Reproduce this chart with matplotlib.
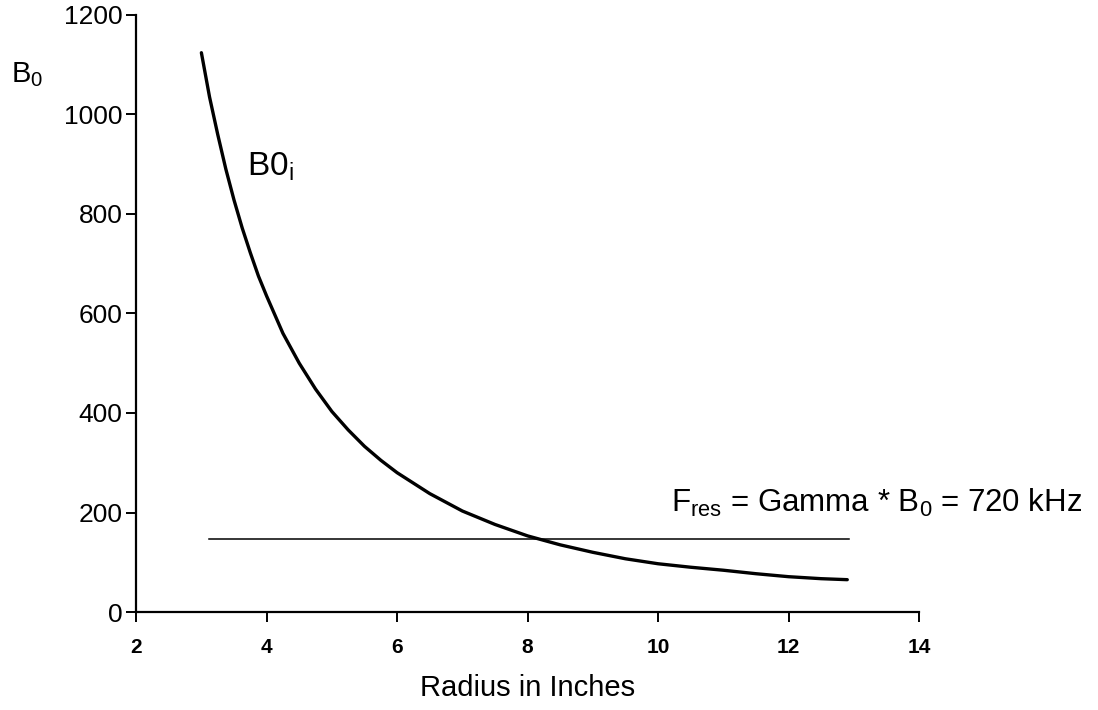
import matplotlib
matplotlib.use("Agg")
import matplotlib.pyplot as plt

plt.rcParams['font.family'] = ['Liberation Sans', 'DejaVu Sans']
plt.rcParams['mathtext.fontset'] = 'custom'
plt.rcParams['mathtext.rm'] = 'Liberation Sans'
plt.rcParams['mathtext.it'] = 'Liberation Sans'

# B0 vs radius
radius = [3.0, 3.125, 3.25, 3.375, 3.5, 3.625, 3.75, 3.875, 4.0, 4.25,
          4.5, 4.75, 5.0, 5.25, 5.5, 5.75, 6.0, 6.5, 7.0, 7.5, 8.0,
          8.5, 9.0, 9.5, 10.0, 10.5, 11.0, 11.5, 12.0, 12.5, 12.9]
b0 = [1124, 1035, 960, 890, 828, 772, 722, 675, 635, 560,
      500, 448, 403, 366, 333, 305, 280, 238, 203, 176, 153,
      135, 120, 107, 97, 90, 84, 77, 71, 67, 65]

# resonance line (720 kHz)
res_x = [3.12, 12.92]
res_y = [147, 147]

x_ticks = [2, 4, 6, 8, 10, 12, 14]
y_ticks = [0, 200, 400, 600, 800, 1000, 1200]

fig = plt.figure(figsize=(10.98, 7.10), dpi=100)
ax = fig.add_axes([0.124, 0.138, 0.713, 0.841])

ax.plot(radius, b0, color='black', lw=2.4, solid_capstyle='round')
ax.plot(res_x, res_y, color='black', lw=1.1)

ax.set_xlim(2, 14)
ax.set_ylim(0, 1200)
ax.set_xticks(x_ticks)
ax.set_yticks(y_ticks)
ax.spines['top'].set_visible(False)
ax.spines['right'].set_visible(False)
ax.spines['left'].set_linewidth(1.6)
ax.spines['bottom'].set_linewidth(1.6)
ax.tick_params(axis='both', direction='out', length=7, width=1.4, color='black')
ax.tick_params(axis='x', labelsize=15, pad=12)
ax.tick_params(axis='y', labelsize=19, pad=3)
for lab in ax.get_xticklabels():
    lab.set_fontweight('bold')

ax.set_xlabel('Radius in Inches', fontsize=21, labelpad=12)

fig.text(0.010, 0.895, r'B$_\mathrm{0}$', fontsize=21, ha='left', va='center')
ax.text(3.7, 895, r'B0$_\mathrm{i}$', fontsize=24, ha='left', va='center')
ax.text(10.2, 201, r'F$_\mathrm{res}$ = Gamma * B$_\mathrm{0}$ = 720 kHz',
        fontsize=22.5, ha='left', va='baseline', clip_on=False)

fig.savefig('out.png', dpi=100)
